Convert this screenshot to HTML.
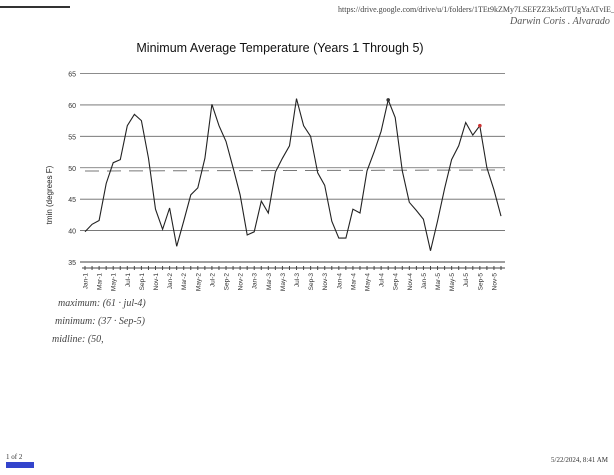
<!DOCTYPE html>
<html><head><meta charset="utf-8"><style>
body{margin:0;background:#fff;width:614px;height:475px;overflow:hidden;font-family:"Liberation Sans",sans-serif}
svg{position:absolute;left:0;top:0}
</style></head><body>
<svg width="614" height="475">
<line x1="0" y1="7" x2="70" y2="7" stroke="#333" stroke-width="2"/>
<text x="338" y="12" font-size="8" fill="#444" font-family="Liberation Serif">https://drive.google.com/drive/u/1/folders/1TEt9kZMy7LSEFZZ3k5x0TUgYaATvIE_</text>
<text x="510" y="24" font-size="10" fill="#555" font-style="italic" font-family="Liberation Serif">Darwin Coris . Alvarado</text>
<text x="280" y="52" font-size="12.5" text-anchor="middle" fill="#111">Minimum Average Temperature (Years 1 Through 5)</text>
<text x="52" y="195" font-size="8" fill="#222" text-anchor="middle" transform="rotate(-90 52 195)">tmin (degrees F)</text>
<g id="grid"></g><g id="xax"></g>
<line x1="85" y1="171" x2="505" y2="170" stroke="#777" stroke-dasharray="14,8" stroke-width="1"/>
<path id="series" fill="none" stroke="#222" stroke-width="1.1"/>
<g id="dots"></g>
<text x="58" y="306" font-size="10" fill="#444" font-style="italic" font-family="Liberation Serif">maximum: (61 · jul-4)</text>
<text x="55" y="324" font-size="10" fill="#444" font-style="italic" font-family="Liberation Serif">minimum: (37 · Sep-5)</text>
<text x="52" y="342" font-size="10" fill="#444" font-style="italic" font-family="Liberation Serif">midline: (50,</text>
<text x="6" y="459" font-size="7" fill="#333" font-family="Liberation Serif">1 of 2</text>
<rect x="6" y="462" width="28" height="6" fill="#3344cc"/>
<text x="608" y="462" font-size="7" fill="#333" text-anchor="end" font-family="Liberation Serif">5/22/2024, 8:41 AM</text>
</svg>
<script>
const months=["Jan","Feb","Mar","Apr","May","Jun","Jul","Aug","Sep","Oct","Nov","Dec"];
const years=[1,2,3,4,5];
const tmin=[39.8,41,41.6,47.5,50.8,51.3,56.7,58.5,57.5,51.5,43.4,40.2,
43.6,37.5,41.5,45.7,46.8,51.5,60.1,56.7,54.2,50,45.7,39.3,
39.8,44.7,42.8,49.3,51.5,53.5,61,56.7,55,49.2,47.2,41.5,
38.8,38.8,43.4,42.8,49.5,52.5,55.8,60.8,58,49.5,44.5,43.2,
41.8,36.8,41.5,46.7,51.3,53.5,57.2,55.2,56.7,50,46.5,42.3];
const yTicks=[35,40,45,50,55,60,65];
const markedIdx=[43,56];
const NS="http://www.w3.org/2000/svg";
const x=i=>85+i*(416/59);
const y=v=>262-(v-35)*(188.5/30);
const grid=document.getElementById('grid');
yTicks.forEach(t=>{
 const l=document.createElementNS(NS,'line');
 l.setAttribute('x1',80);l.setAttribute('x2',505);l.setAttribute('y1',y(t));l.setAttribute('y2',y(t));
 l.setAttribute('stroke','#666');l.setAttribute('stroke-width',t==35?1.3:0.8);
 
 
 grid.appendChild(l);
 const tx=document.createElementNS(NS,'text');
 tx.setAttribute('x',76);tx.setAttribute('y',y(t)+3);tx.setAttribute('font-size',7);tx.setAttribute('text-anchor','end');tx.setAttribute('fill','#333');
 tx.textContent=t;
 
 
 grid.appendChild(tx);
});
const xax=document.getElementById('xax');
const ay=y(35)+6;
const axl=document.createElementNS(NS,'line');
axl.setAttribute('x1',82);axl.setAttribute('x2',505);axl.setAttribute('y1',ay);axl.setAttribute('y2',ay);axl.setAttribute('stroke','#444');


xax.appendChild(axl);
const labels=[];years.forEach(yr=>months.forEach(m=>labels.push(m+'-'+yr)));
labels.forEach((lb,i)=>{
 const tk=document.createElementNS(NS,'line');
 tk.setAttribute('x1',x(i));tk.setAttribute('x2',x(i));tk.setAttribute('y1',ay-2);tk.setAttribute('y2',ay+2);tk.setAttribute('stroke','#444');
 
 
 xax.appendChild(tk);
 if(i%2==0){
  const t=document.createElementNS(NS,'text');
  const tx=x(i)+2.5,ty=ay+5;
  t.setAttribute('x',tx);t.setAttribute('y',ty);t.setAttribute('font-size',6.5);t.setAttribute('text-anchor','end');t.setAttribute('fill','#333');
  t.setAttribute('transform','rotate(-90 '+tx+' '+ty+')');
  t.textContent=lb;
  
  
  xax.appendChild(t);
 }
});
document.getElementById('series').setAttribute('d',tmin.map((v,i)=>(i?'L':'M')+x(i).toFixed(1)+' '+y(v).toFixed(1)).join(' '));
const dots=document.getElementById('dots');
markedIdx.forEach((i,k)=>{
 const c=document.createElementNS(NS,'circle');
 c.setAttribute('cx',x(i));c.setAttribute('cy',y(tmin[i]));c.setAttribute('r',1.8);c.setAttribute('fill',k?'#c33':'#333');
 
 
 dots.appendChild(c);
});
</script>
</body></html>
